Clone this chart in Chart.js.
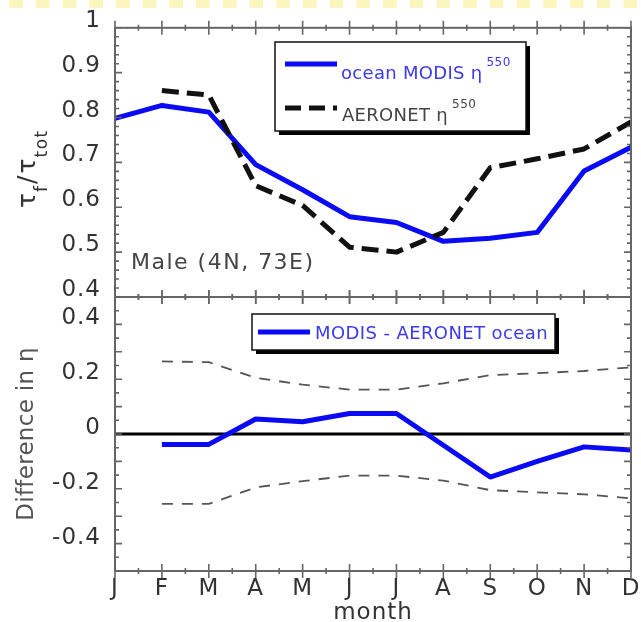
<!DOCTYPE html>
<html><head><meta charset="utf-8">
<script src="https://cdn.jsdelivr.net/npm/chart.js@4"></script>
<style>
html,body{margin:0;padding:0;background:#fff;}
#wrap{position:relative;width:641px;height:622px;overflow:hidden;background:#fff;}
canvas{position:absolute;left:0;top:0;}
</style></head><body>
<div id="wrap"><canvas id="cTop" width="641" height="622"></canvas><canvas id="cBot" width="641" height="622"></canvas></div>
<script>
// ---- data ----
const months = ['J','F','M','A','M','J','J','A','S','O','N','D'];
const modisEta   = [0.798, 0.827, 0.812, 0.695, 0.639, 0.579, 0.566, 0.524, 0.531, 0.544, 0.681, 0.734];
const aeronetEta = [null, 0.860, 0.850, 0.648, 0.604, 0.511, 0.500, 0.544, 0.688, 0.708, 0.730, 0.790];
const diffEta    = [null, -0.038, -0.038, 0.055, 0.045, 0.075, 0.075, -0.041, -0.157, -0.100, -0.047, -0.058];
const diffUpper  = [null, 0.265, 0.262, 0.205, 0.180, 0.162, 0.162, 0.185, 0.215, 0.222, 0.230, 0.243];
const diffLower  = [null, -0.255, -0.255, -0.195, -0.172, -0.152, -0.152, -0.170, -0.205, -0.213, -0.220, -0.235];
const topTicks    = [0.4, 0.5, 0.6, 0.7, 0.8, 0.9, 1.0];
const bottomTicks = [-0.4, -0.2, 0, 0.2, 0.4];
const legendTop   = ['ocean MODIS η', 'AERONET η'];
const legendBot   = ['MODIS - AERONET ocean'];
const siteLabel   = 'Male (4N, 73E)';

const FONT = 'DejaVu Sans';
const BLUE = '#0a0af5';

function drawFrame(chart, o) {
  const {ctx, chartArea: a, scales: {x, y}} = chart;
  ctx.save();
  ctx.strokeStyle = '#666';
  ctx.lineWidth = 2;
  ctx.strokeRect(a.left, a.top, a.right - a.left, a.bottom - a.top);
  ctx.lineWidth = 1.6;
  ctx.beginPath();
  for (let i = 0; i < months.length; i++) {
    const px = x.getPixelForValue(i);
    for (const yy of [a.top, a.bottom]) { ctx.moveTo(px, yy - 7); ctx.lineTo(px, yy + 7); }
    if (i < months.length - 1) {
      const mx = (px + x.getPixelForValue(i + 1)) / 2;
      for (const yy of [a.top, a.bottom]) { ctx.moveTo(mx, yy - 3); ctx.lineTo(mx, yy + 3); }
    }
  }
  const n = Math.round((y.max - y.min) / o.minor);
  for (let k = 0; k <= n; k++) {
    const v = y.min + k * o.minor;
    const py = y.getPixelForValue(v);
    const r = v / o.major;
    const L = Math.abs(r - Math.round(r)) < 1e-6 ? 7 : 4;
    ctx.moveTo(a.left - 1, py); ctx.lineTo(a.left + L, py);
    ctx.moveTo(a.right + 1, py); ctx.lineTo(a.right - L, py);
  }
  ctx.stroke();
  ctx.restore();
}

function text(ctx, s, x, y, size, color, ls, align) {
  ctx.save();
  ctx.font = size + 'px "' + FONT + '"';
  ctx.fillStyle = color;
  ctx.letterSpacing = ls || '0px';
  ctx.textAlign = align || 'left';
  ctx.textBaseline = 'alphabetic';
  ctx.fillText(s, x, y);
  const w = ctx.measureText(s).width;
  ctx.restore();
  return w;
}

function legendBox(ctx, l, t, r, b) {
  ctx.save();
  ctx.fillStyle = '#000';
  ctx.fillRect(l + 4, t + 4, r - l, b - t);
  ctx.fillStyle = '#fff';
  ctx.fillRect(l, t, r - l, b - t);
  ctx.strokeStyle = '#111';
  ctx.lineWidth = 1.5;
  ctx.strokeRect(l, t, r - l, b - t);
  ctx.restore();
}

function sample(ctx, x0, x1, y, color, dash) {
  ctx.save();
  ctx.strokeStyle = color;
  ctx.lineWidth = 5;
  ctx.setLineDash(dash || []);
  ctx.beginPath(); ctx.moveTo(x0, y); ctx.lineTo(x1, y); ctx.stroke();
  ctx.restore();
}

const topDecor = {
  id: 'topDecor',
  beforeDraw(chart) { chart.ctx.letterSpacing = '1px'; },
  afterDatasetsDraw(chart) {
    const ctx = chart.ctx;
    drawFrame(chart, {major: 0.1, minor: 0.02});
    legendBox(ctx, 275, 42, 526, 131);
    sample(ctx, 285, 337, 64, BLUE);
    let w = text(ctx, legendTop[0], 341, 79, 18, '#3a3aee', '0.3px');
    text(ctx, '550', 341 + w + 4, 66, 12, '#3a3aee', '0.5px');
    sample(ctx, 285, 337, 108, '#111', [16, 8]);
    w = text(ctx, legendTop[1], 342, 121, 18, '#444', '0.3px');
    text(ctx, '550', 342 + w + 4, 108, 12, '#444', '0.5px');
    text(ctx, siteLabel, 131, 269, 22, '#444', '1.5px');
    ctx.save();
    ctx.translate(35, 208);
    ctx.rotate(-Math.PI / 2);
    let p = 0;
    p += text(ctx, 'τ', p, 0, 25, '#333', '1px');
    p += text(ctx, 'f', p, 12, 17, '#333', '1px');
    p += text(ctx, '/', p + 1, 0, 25, '#333', '1px') + 2;
    p += text(ctx, 'τ', p, 0, 25, '#333', '1px');
    p += text(ctx, 'tot', p, 12, 17, '#333', '1.5px');
    ctx.restore();
    ctx.save();
    ctx.strokeStyle = '#fbf6bd';
    ctx.lineWidth = 8;
    ctx.setLineDash([13.5, 13.2]);
    ctx.beginPath(); ctx.moveTo(9.3, 4); ctx.lineTo(641, 4); ctx.stroke();
    ctx.restore();
  }
};

const botDecor = {
  id: 'botDecor',
  beforeDraw(chart) { chart.ctx.letterSpacing = '1px'; },
  beforeDatasetsDraw(chart) {
    const {ctx, chartArea: a, scales: {y}} = chart;
    const py = y.getPixelForValue(0);
    ctx.save();
    ctx.strokeStyle = '#000';
    ctx.lineWidth = 3;
    ctx.beginPath(); ctx.moveTo(a.left, py); ctx.lineTo(a.right, py); ctx.stroke();
    ctx.restore();
  },
  afterDatasetsDraw(chart) {
    const ctx = chart.ctx;
    drawFrame(chart, {major: 0.1, minor: 0.05});
    legendBox(ctx, 252, 314, 555, 350);
    sample(ctx, 258, 310, 332, BLUE);
    text(ctx, legendBot[0], 315, 339, 18, '#3a3aee', '0.4px');
    ctx.save();
    ctx.translate(33, 434);
    ctx.rotate(-Math.PI / 2);
    text(ctx, 'Difference in η', 0, 0, 23, '#555', '0.3px', 'center');
    ctx.restore();
  }
};

const common = {
  responsive: false,
  animation: false,
  devicePixelRatio: 1,
  plugins: {legend: {display: false}, tooltip: {enabled: false}},
  elements: {point: {radius: 0}, line: {tension: 0, borderJoinStyle: 'round'}}
};

new Chart(document.getElementById('cTop'), {
  type: 'line',
  data: {
    labels: months,
    datasets: [
      {label: 'ocean MODIS η550', data: modisEta, borderColor: BLUE, borderWidth: 5, order: 1, fill: false},
      {label: 'AERONET η550', data: aeronetEta, borderColor: '#111', borderWidth: 5, borderDash: [17, 8], order: 0, fill: false}
    ]
  },
  options: Object.assign({}, common, {
    layout: {padding: {top: 27, right: 10, bottom: 325, left: 0}},
    scales: {
      x: {display: false, offset: false},
      y: {
        min: 0.4, max: 1.0,
        afterBuildTicks: s => { s.ticks = topTicks.map(v => ({value: v})); },
        afterFit: s => { s.width = 115; },
        grid: {display: false, drawTicks: false},
        border: {display: false},
        ticks: {
          padding: 14, labelOffset: -7, color: '#333',
          font: {family: FONT, size: 23},
          callback: v => v === 1 ? '1' : Number(v).toFixed(1)
        }
      }
    }
  }),
  plugins: [topDecor]
});

new Chart(document.getElementById('cBot'), {
  type: 'line',
  data: {
    labels: months,
    datasets: [
      {label: 'MODIS - AERONET ocean', data: diffEta, borderColor: BLUE, borderWidth: 5, order: 0, fill: false},
      {label: 'upper', data: diffUpper, borderColor: '#555', borderWidth: 1.8, borderDash: [11, 9], order: 1, fill: false},
      {label: 'lower', data: diffLower, borderColor: '#555', borderWidth: 1.8, borderDash: [11, 9], order: 2, fill: false}
    ]
  },
  options: Object.assign({}, common, {
    layout: {padding: {top: 297, right: 10, bottom: 0, left: 0}},
    scales: {
      x: {
        offset: false,
        afterFit: s => { s.height = 51; s.paddingLeft = 0; s.paddingRight = 0; },
        grid: {display: false, drawTicks: false},
        border: {display: false},
        ticks: {padding: 4, autoSkip: false, maxRotation: 0, color: '#333', font: {family: FONT, size: 23}},
        title: {display: true, text: 'month', color: '#333', padding: {top: 0, bottom: 0}, font: {family: FONT, size: 23, lineHeight: 0.75}}
      },
      y: {
        min: -0.5, max: 0.5,
        afterBuildTicks: s => { s.ticks = bottomTicks.map(v => ({value: v})); },
        afterFit: s => { s.width = 115; },
        grid: {display: false, drawTicks: false},
        border: {display: false},
        ticks: {
          padding: 14, labelOffset: -6, color: '#333',
          font: {family: FONT, size: 23},
          callback: v => v === 0 ? '0' : Number(v).toFixed(1)
        }
      }
    }
  }),
  plugins: [botDecor]
});
</script>
</body></html>
